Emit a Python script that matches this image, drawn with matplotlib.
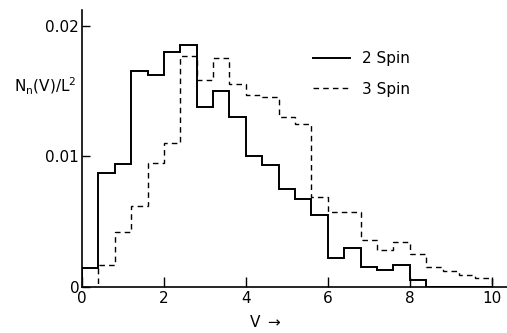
import numpy as np
import matplotlib
matplotlib.use("Agg")
import matplotlib.pyplot as plt

plt.rcParams['font.family'] = ['Liberation Sans Narrow', 'DejaVu Sans']
plt.rcParams['mathtext.default'] = 'regular'

# histogram of N_n(V)/L^2, bin width 0.4 from V=0 to V=10
bin_edges = np.round(np.arange(0, 10.01, 0.4), 2)

spin2 = [0.00146, 0.0087, 0.0094, 0.0165, 0.0162, 0.0180, 0.0185, 0.0138,
         0.0150, 0.0130, 0.0100, 0.0093, 0.0075, 0.0067, 0.0055, 0.0022,
         0.0030, 0.0015, 0.00125, 0.0017, 0.0005, 0, 0, 0, 0]
spin3 = [0, 0.0017, 0.0042, 0.0062, 0.0095, 0.0110, 0.0177, 0.0158,
         0.0175, 0.0155, 0.0147, 0.0145, 0.0130, 0.0125, 0.0069, 0.0057,
         0.0057, 0.0036, 0.0028, 0.0034, 0.0025, 0.0015, 0.0012, 0.0009,
         0.0007]

xticks = [0, 2, 4, 6, 8, 10]
xtick_labels = ['0', '2', '4', '6', '8', '10']
yticks = [0, 0.01, 0.02]
ytick_labels = ['0', '0.01', '0.02']

fig = plt.figure(figsize=(5.07, 3.33), dpi=100)
ax = fig.add_axes([0.1617, 0.139, 0.838, 0.831])

ax.stairs(spin2, bin_edges, color='black', lw=1.4, label='2 Spin')
ax.stairs(spin3, bin_edges, color='black', lw=1.0, linestyle=(0, (4, 3)),
          label='3 Spin')

ax.set_xlim(0, 10.37)
ax.set_ylim(0, 0.0212)
ax.spines['top'].set_visible(False)
ax.spines['right'].set_visible(False)
ax.spines['left'].set_linewidth(1.2)
ax.spines['bottom'].set_linewidth(1.2)

ax.set_xticks(xticks)
ax.set_xticklabels(xtick_labels, fontsize=11)
ax.set_yticks(yticks)
ax.set_yticklabels(ytick_labels, fontsize=11)
ax.tick_params(axis='x', direction='in', length=7, width=1, pad=3)
ax.tick_params(axis='y', direction='in', length=6, width=1, pad=2)

ax.text(-0.087, 0.722, 'N$_n$(V)/L$^2$', transform=ax.transAxes,
        ha='center', va='center', fontsize=11)
ax.text(0.43, -0.128, 'V $\\rightarrow$', transform=ax.transAxes,
        ha='center', va='center', fontsize=11)

ax.legend(frameon=False, loc='upper left', bbox_to_anchor=(0.5435, 0.85),
          fontsize=11, handlelength=2.4, handletextpad=0.8,
          labelspacing=1.0, borderpad=0, borderaxespad=0)

fig.savefig('out.png', dpi=100)
